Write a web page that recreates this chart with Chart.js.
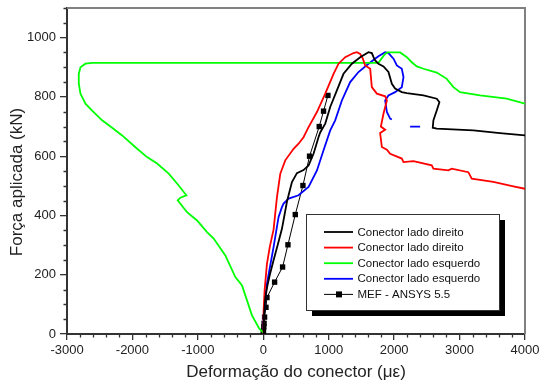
<!DOCTYPE html>
<html><head><meta charset="utf-8">
<script src="https://cdn.jsdelivr.net/npm/chart.js@4/dist/chart.umd.min.js"></script>
<style>html,body{margin:0;padding:0;background:#fff}#wrap{width:539px;height:387px}</style>
</head><body><div id="wrap"><canvas id="c" width="539" height="387"></canvas></div>
<script>
const xTicks = [-3000,-2000,-1000,0,1000,2000,3000,4000];
const xTickLabels = ['-3000','-2000','-1000','0','1000','2000','3000','4000'];
const yTicks = [0,200,400,600,800,1000];
const yTickLabels = ['0','200','400','600','800','1000'];
const seriesLabels = ['Conector lado direito','Conector lado direito','Conector lado esquerdo','Conector lado esquerdo','MEF - ANSYS 5.5'];
const xTitle = 'Deformação do conector (με)';
const yTitle = 'Força aplicada (kN)';

const blackX = [0,10,30,60,100,157,220,285,362,438,514,615,692,768,844,870,947,1023,1125,1226,1354,1481,1608,1659,1685,1710,1760,1837,1913,1965,2015,2117,2194,2448,2651,2692,2651,2600,2590,2651,3211,3618,4000];
const blackY = [0,60,120,160,200,249,300,355,447,513,543,553,569,608,664,680,710,766,822,878,912,934,951,948,934,923,912,903,884,844,828,816,813,805,794,782,754,721,696,693,687,678,670];

const redX = [0,5,20,56,100,157,209,260,336,463,539,615,692,820,947,1074,1150,1252,1379,1430,1481,1520,1557,1634,1659,1736,1863,1889,1837,1797,1863,1786,1812,1889,1939,2117,2143,2295,2575,2600,2830,2880,3134,3186,3516,3822,4000];
const redY = [0,80,147,237,295,352,462,541,586,625,642,664,698,749,811,878,912,934,948,951,945,930,906,895,833,811,802,788,743,700,689,678,631,622,608,592,580,583,569,558,552,558,546,524,513,498,490];

const greenX = [0,-61,-173,-325,-427,-580,-758,-860,-1012,-1165,-1308,-1267,-1176,-1293,-1445,-1623,-1776,-1928,-2157,-2336,-2463,-2616,-2718,-2768,-2794,-2820,-2820,-2794,-2718,-2616,1760,1860,1900,2092,2194,2270,2346,2448,2651,2804,2906,3008,3313,3720,4000];
const greenY = [5,18,63,164,192,265,322,344,383,411,451,460,468,501,541,575,597,625,670,700,721,754,777,799,811,845,878,900,912,915,915,945,950,950,934,917,903,895,882,861,833,816,805,794,777];

const blueX = [0,5,30,56,157,234,285,310,387,539,692,820,921,1023,1099,1201,1328,1455,1608,1760,1863,1913,1990,2041,2117,2143,2117,2015,1913,1863,1889,1939,1965,2100,2244,2397];
const blueY = [0,57,120,170,293,395,428,440,457,468,496,552,620,687,721,788,850,884,912,937,951,948,929,906,895,867,833,816,805,788,749,727,724,null,700,700];

const mefX = [0,3,8,12,20,41,56,173,295,377,489,606,707,855,921,988];
const mefY = [0,12,24,36,57,90,123,175,226,301,403,501,600,700,752,805];

function pts(xs, ys){ return xs.map((x,i)=>({x:x, y:ys[i]})); }

const FONT = "'Liberation Sans', Arial, sans-serif";

function zeroPad(s){ s.paddingTop = 0; s.paddingBottom = 0; s.paddingLeft = 0; s.paddingRight = 0; }

const decorPlugin = {
  id: 'decor',
  beforeDatasetsDraw(chart){
    const {ctx, chartArea:a, scales:{x, y}} = chart;
    ctx.save();
    ctx.strokeStyle = '#333';
    ctx.lineWidth = 1.3;
    ctx.beginPath();
    for (let v = -3000; v <= 4000; v += 200) {
      if (v % 1000 === 0) continue;
      const px = Math.round(x.getPixelForValue(v)) + 0.5;
      ctx.moveTo(px, a.bottom); ctx.lineTo(px, a.bottom + 3.5);
    }
    for (let v = 0; v <= 1100; v += 50) {
      if (v % 200 === 0) continue;
      const py = Math.round(y.getPixelForValue(v)) + 0.5;
      ctx.moveTo(a.left, py); ctx.lineTo(a.left - 3.5, py);
    }
    ctx.stroke();
    ctx.strokeStyle = '#808080';
    ctx.lineWidth = 2;
    ctx.beginPath();
    ctx.moveTo(a.left, a.top); ctx.lineTo(a.right, a.top); ctx.lineTo(a.right, a.bottom);
    ctx.stroke();
    // y axis title
    ctx.save();
    ctx.translate(17.5, (a.top + a.bottom) / 2 + 11);
    ctx.rotate(-Math.PI / 2);
    ctx.font = '17px ' + FONT;
    ctx.fillStyle = '#222';
    ctx.textAlign = 'center';
    ctx.textBaseline = 'middle';
    ctx.fillText(yTitle, 0, 0);
    ctx.restore();
    ctx.restore();
  },
  afterDatasetsDraw(chart){
    const {ctx} = chart;
    const bx = 306, by = 214, bw = 193, bh = 96;
    ctx.save();
    ctx.fillStyle = '#000';
    ctx.fillRect(bx + 6, by + 6, bw, bh);
    ctx.fillStyle = '#fff';
    ctx.fillRect(bx, by, bw, bh);
    ctx.strokeStyle = '#333';
    ctx.lineWidth = 1;
    ctx.strokeRect(bx + 0.5, by + 0.5, bw, bh);
    ctx.font = '11.5px ' + FONT;
    ctx.textBaseline = 'middle';
    ctx.textAlign = 'left';
    chart.data.datasets.forEach((ds, i) => {
      const yy = 232 + i * 15.6;
      ctx.strokeStyle = ds.borderColor;
      ctx.lineWidth = ds.borderWidth;
      ctx.beginPath(); ctx.moveTo(324, yy); ctx.lineTo(353, yy); ctx.stroke();
      if (ds.pointRadius > 0) {
        ctx.fillStyle = ds.borderColor;
        ctx.fillRect(336, yy - 3, 6, 6);
      }
      ctx.fillStyle = '#111';
      ctx.fillText(ds.label, 357.5, yy + 0.5);
    });
    ctx.restore();
  }
};

const lineDs = (label, data, color) => ({
  label, data, borderColor: color, backgroundColor: color, borderWidth: 1.8,
  pointRadius: 0, tension: 0, fill: false, spanGaps: false
});

new Chart(document.getElementById('c'), {
  type: 'line',
  data: {
    datasets: [
      lineDs(seriesLabels[0], pts(blackX, blackY), '#000000'),
      lineDs(seriesLabels[1], pts(redX, redY), '#ff0000'),
      lineDs(seriesLabels[2], pts(greenX, greenY), '#00ff00'),
      lineDs(seriesLabels[3], pts(blueX, blueY), '#0000ff'),
      { label: seriesLabels[4], data: pts(mefX, mefY), borderColor: '#000', backgroundColor: '#000',
        borderWidth: 1, pointRadius: 3.8, pointStyle: 'rect', pointBorderWidth: 0, tension: 0, fill: false }
    ]
  },
  options: {
    responsive: false, animation: false, devicePixelRatio: 1,
    layout: { padding: { top: 8, right: 14, left: 0, bottom: 0 } },
    plugins: { legend: { display: false }, tooltip: { enabled: false } },
    scales: {
      x: {
        type: 'linear', min: -3000, max: 4000,
        afterBuildTicks: s => { s.ticks = xTicks.map(v => ({ value: v })); },
        afterFit: s => { s.height = 53; zeroPad(s); },
        ticks: { font: { size: 13, family: FONT }, color: '#222', padding: 3, maxRotation: 0,
          callback: (v, i) => xTickLabels[i] },
        grid: { drawOnChartArea: false, tickLength: 6, color: '#333', lineWidth: 1.3 },
        border: { color: '#333', width: 2 },
        title: { display: true, text: xTitle, font: { size: 17, family: FONT }, color: '#222', padding: { top: 0, bottom: 4 } }
      },
      y: {
        type: 'linear', min: 0, max: 1100,
        afterBuildTicks: s => { s.ticks = yTicks.map(v => ({ value: v })); },
        afterFit: s => { s.width = 67; zeroPad(s); },
        ticks: { font: { size: 13, family: FONT }, color: '#222', padding: 4,
          callback: (v, i) => yTickLabels[i] },
        grid: { drawOnChartArea: false, tickLength: 7, color: '#333', lineWidth: 1.3 },
        border: { color: '#333', width: 2 },
        title: { display: false, text: yTitle }
      }
    }
  },
  plugins: [decorPlugin]
});
</script></body></html>
